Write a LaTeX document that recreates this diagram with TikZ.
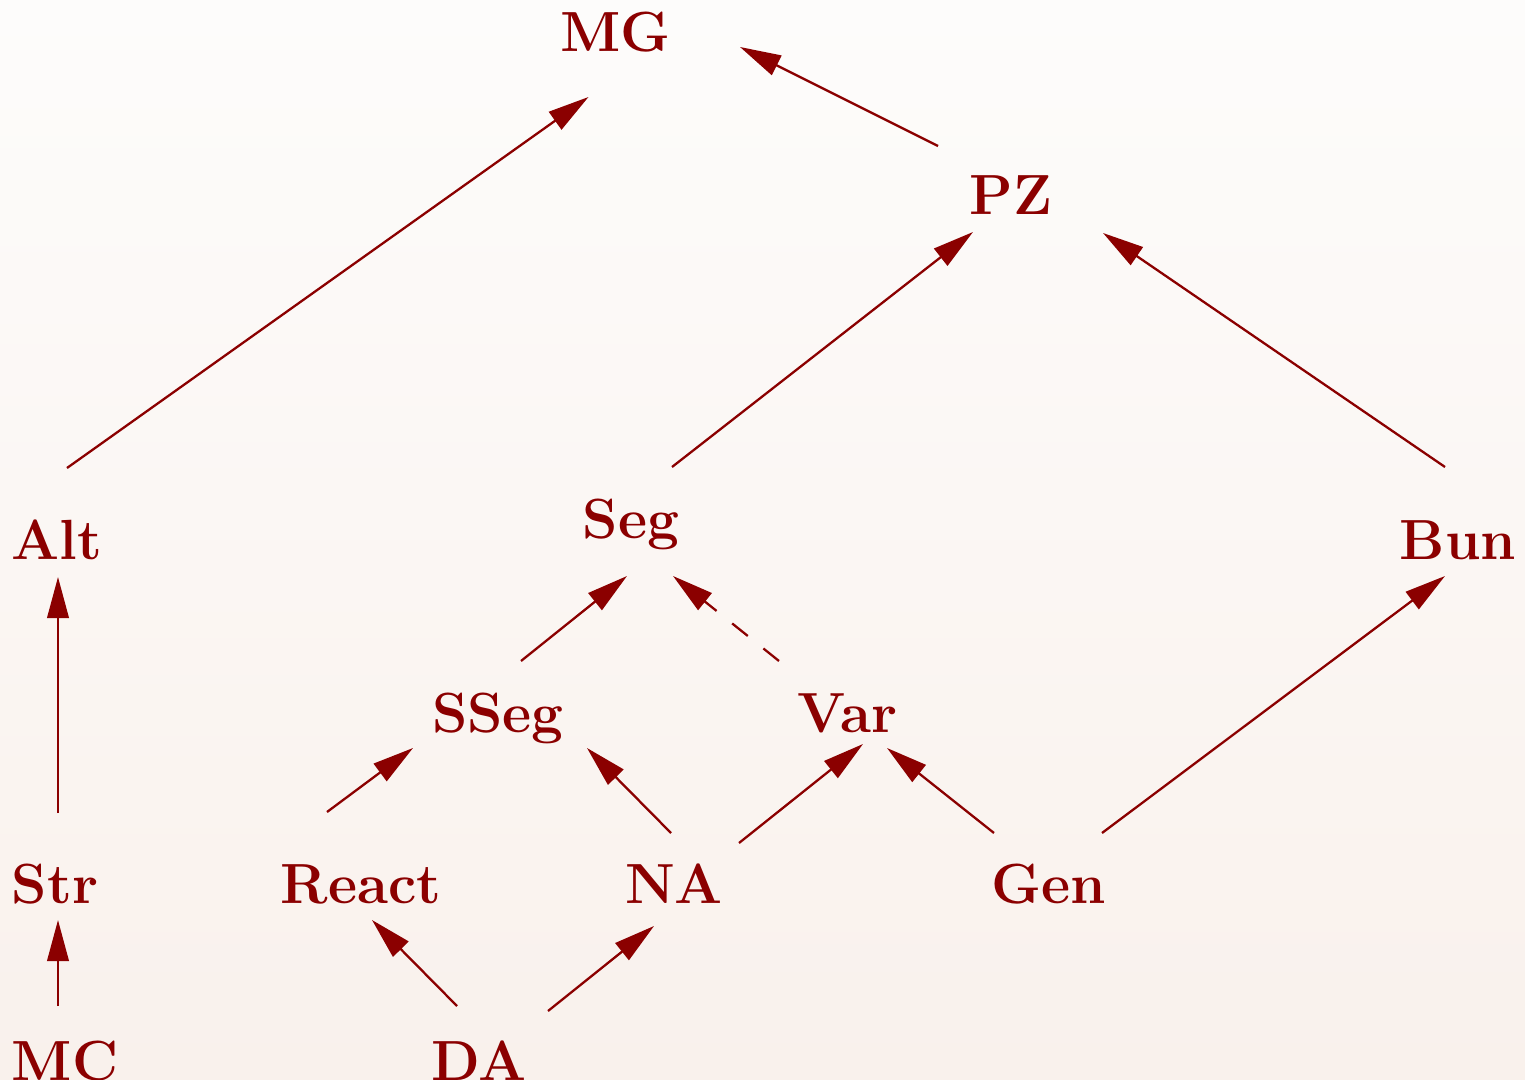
\documentclass[tikz,border=0pt]{standalone}
\usetikzlibrary{arrows.meta,calc}
\definecolor{ink}{RGB}{139,0,0}
\definecolor{bgtop}{RGB}{253,252,251}
\definecolor{bgbot}{RGB}{249,241,236}
\begin{document}
\begin{tikzpicture}[x=0.01cm,y=-0.01cm,
  lbl/.style={anchor=base,inner sep=0pt,text=ink,font=\fontsize{16.1}{19}\selectfont\bfseries},
  arr/.style={draw=ink,line width=0.65pt,-{Triangle[length=0.41cm,width=0.215cm]}},
  dasharr/.style={arr,dash pattern=on 0.2cm off 0.2cm}]
\shade[top color=bgtop,bottom color=bgbot] (0,0) rectangle (1525,1079);
\useasboundingbox (0,0) rectangle (1525,1079);
\node[lbl] (MG) at (615.5,52) {MG};
\node[lbl] (PZ) at (1011,214) {PZ};
\node[lbl] (Alt) at (57,559) {Alt};
\node[lbl] (Seg) at (631,538) {Seg};
\node[lbl] (Bun) at (1458,559) {Bun};
\node[lbl] (SSeg) at (498,732) {SSeg};
\node[lbl] (Var) at (847.5,732) {Var};
\node[lbl] (Str) at (55,903) {Str};
\node[lbl] (React) at (361,903) {React};
\node[lbl] (NA) at (674,903) {NA};
\node[lbl] (Gen) at (1049,903) {Gen};
\node[lbl] (MC) at (65,1080) {MC};
\node[lbl] (DA) at (479,1080) {DA};
\draw[arr] ($(Alt.base)+(10,-91)$) -- ($(MG.base)+(-27,45)$);
\draw[arr] ($(PZ.base)+(-73,-68)$) -- ($(MG.base)+(124.5,-5)$);
\draw[arr] ($(Seg.base)+(41,-71)$) -- ($(PZ.base)+(-38,18)$);
\draw[arr] ($(Bun.base)+(-13,-92)$) -- ($(PZ.base)+(92,19)$);
\draw[arr] ($(SSeg.base)+(23,-71)$) -- ($(Seg.base)+(-4,38)$);
\draw[dasharr] ($(Var.base)+(-68.5,-71)$) -- ($(Seg.base)+(42,38)$);
\draw[arr] ($(Str.base)+(3,-90)$) -- ($(Alt.base)+(1,18)$);
\draw[arr] ($(React.base)+(-34,-91)$) -- ($(SSeg.base)+(-85,16)$);
\draw[arr] ($(NA.base)+(-3,-70)$) -- ($(SSeg.base)+(89,16)$);
\draw[arr] ($(NA.base)+(65,-60)$) -- ($(Var.base)+(15.5,12)$);
\draw[arr] ($(Gen.base)+(-55,-70)$) -- ($(Var.base)+(39.5,16)$);
\draw[arr] ($(Gen.base)+(53,-70)$) -- ($(Bun.base)+(-13,17)$);
\draw[arr] ($(MC.base)+(-7,-74)$) -- ($(Str.base)+(3,17)$);
\draw[arr] ($(DA.base)+(-22,-74)$) -- ($(React.base)+(11,17)$);
\draw[arr] ($(DA.base)+(69,-69)$) -- ($(NA.base)+(-20,23)$);
\end{tikzpicture}
\end{document}
